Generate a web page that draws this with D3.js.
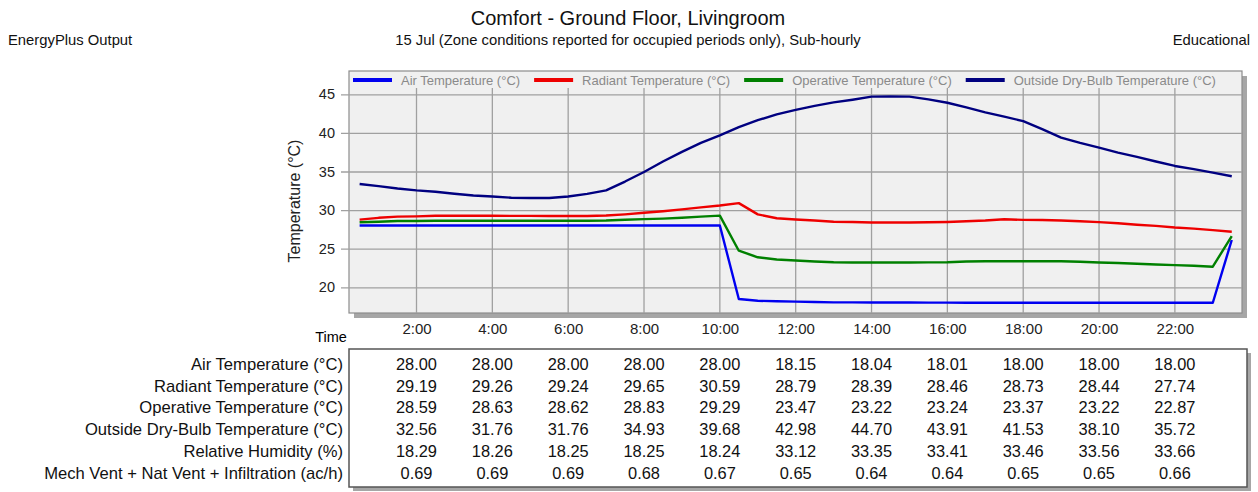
<!DOCTYPE html>
<html>
<head>
<meta charset="utf-8">
<script src="https://cdn.jsdelivr.net/npm/d3@7"></script>
<style>
  body { margin: 0; background: #fff; }
  text { font-family: "Liberation Sans", Arial, sans-serif; }
</style>
</head>
<body>
<svg id="chart"></svg>
<script>
const width = 1258;
const height = 492;

// time of each sub-hourly sample (h:mm)
const times = ['0:30','1:00','1:30','2:00','2:30','3:00','3:30','4:00','4:30','5:00','5:30','6:00',
  '6:30','7:00','7:30','8:00','8:30','9:00','9:30','10:00','10:30','11:00','11:30','12:00',
  '12:30','13:00','13:30','14:00','14:30','15:00','15:30','16:00','16:30','17:00','17:30','18:00',
  '18:30','19:00','19:30','20:00','20:30','21:00','21:30','22:00','22:30','23:00','23:30'];

const airTemp = [28.00,28.00,28.00,28.00,28.00,28.00,28.00,28.00,28.00,28.00,28.00,28.00,
  28.00,28.00,28.00,28.00,28.00,28.00,28.00,28.00,18.48,18.25,18.20,18.15,
  18.10,18.05,18.04,18.04,18.04,18.03,18.01,18.01,18.00,18.00,18.00,18.00,
  18.00,18.00,18.00,18.00,18.00,18.00,18.00,18.00,18.00,18.00,26.13];

const radiantTemp = [28.76,29.00,29.15,29.19,29.26,29.26,29.26,29.26,29.25,29.25,29.24,29.24,
  29.24,29.30,29.45,29.65,29.85,30.10,30.35,30.59,30.90,29.45,28.94,28.79,
  28.65,28.50,28.45,28.39,28.39,28.39,28.42,28.46,28.55,28.65,28.82,28.73,
  28.72,28.65,28.55,28.44,28.30,28.10,27.95,27.74,27.60,27.40,27.20];

const operativeTemp = [28.42,28.50,28.59,28.59,28.62,28.63,28.63,28.63,28.63,28.62,28.62,28.62,
  28.62,28.65,28.75,28.83,28.90,29.00,29.15,29.29,24.74,23.89,23.60,23.47,
  23.35,23.25,23.22,23.22,23.22,23.22,23.23,23.24,23.35,23.37,23.37,23.37,
  23.37,23.37,23.30,23.22,23.15,23.05,22.95,22.87,22.80,22.67,26.64];

const outsideTemp = [33.38,33.10,32.80,32.56,32.38,32.12,31.90,31.76,31.60,31.57,31.57,31.76,
  32.10,32.55,33.70,34.93,36.30,37.55,38.70,39.68,40.75,41.65,42.40,42.98,
  43.50,43.95,44.30,44.70,44.72,44.70,44.35,43.91,43.30,42.65,42.10,41.53,
  40.50,39.40,38.70,38.10,37.45,36.90,36.30,35.72,35.30,34.85,34.38];

const tickHours = ['2:00','4:00','6:00','8:00','10:00','12:00','14:00','16:00','18:00','20:00','22:00'];
const yTicks = [20, 25, 30, 35, 40, 45];

const seriesNames = ['Air Temperature (°C)', 'Radiant Temperature (°C)', 'Operative Temperature (°C)', 'Outside Dry-Bulb Temperature (°C)'];
const seriesColors = ['#0000f0', '#ee0000', '#008000', '#000080'];

const rowLabels = ['Air Temperature (°C)', 'Radiant Temperature (°C)', 'Operative Temperature (°C)',
  'Outside Dry-Bulb Temperature (°C)', 'Relative Humidity (%)', 'Mech Vent + Nat Vent + Infiltration (ac/h)'];
const tableAir = ['28.00','28.00','28.00','28.00','28.00','18.15','18.04','18.01','18.00','18.00','18.00'];
const tableRadiant = ['29.19','29.26','29.24','29.65','30.59','28.79','28.39','28.46','28.73','28.44','27.74'];
const tableOperative = ['28.59','28.63','28.62','28.83','29.29','23.47','23.22','23.24','23.37','23.22','22.87'];
const tableOutside = ['32.56','31.76','31.76','34.93','39.68','42.98','44.70','43.91','41.53','38.10','35.72'];
const tableHumidity = ['18.29','18.26','18.25','18.25','18.24','33.12','33.35','33.41','33.46','33.56','33.66'];
const tableVent = ['0.69','0.69','0.69','0.68','0.67','0.65','0.64','0.64','0.65','0.65','0.66'];

const plot = {left: 349, right: 1242, top: 71, bottom: 313, legendBottom: 88};

const toHours = t => { const p = t.split(':'); return +p[0] + (+p[1]) / 60; };

const svg = d3.select('#chart').attr('width', width).attr('height', height);

const x = d3.scaleLinear().domain([0.22, 23.77]).range([plot.left, plot.right]);
const y = d3.scaleLinear().domain([16.67, 48.02]).range([plot.bottom, plot.top]);

// titles
svg.append('text').attr('x', 628).attr('y', 25).attr('text-anchor', 'middle')
  .attr('font-size', 20).attr('fill', '#111').text('Comfort - Ground Floor, Livingroom');
svg.append('text').attr('x', 628).attr('y', 45).attr('text-anchor', 'middle')
  .attr('font-size', 14.8).attr('fill', '#111').text('15 Jul (Zone conditions reported for occupied periods only), Sub-hourly');
svg.append('text').attr('x', 8).attr('y', 45).attr('font-size', 14.8).attr('fill', '#111').text('EnergyPlus Output');
svg.append('text').attr('x', 1250).attr('y', 45).attr('text-anchor', 'end')
  .attr('font-size', 14.8).attr('fill', '#111').text('Educational');

// plot frame with shadow
svg.append('rect').attr('x', plot.left + 5).attr('y', plot.top + 5)
  .attr('width', plot.right - plot.left).attr('height', plot.bottom - plot.top).attr('fill', '#a6a6a6');
svg.append('rect').attr('x', plot.left).attr('y', plot.top)
  .attr('width', plot.right - plot.left).attr('height', plot.bottom - plot.top)
  .attr('fill', '#f0f0f0').attr('stroke', '#8c8c8c').attr('stroke-width', 1.2);

// y axis + gridlines
const yAxis = svg.append('g').attr('transform', `translate(${plot.right}, 0)`)
  .call(d3.axisLeft(y).tickValues(yTicks).tickSize(plot.right - plot.left + 8).tickPadding(6));
yAxis.select('.domain').remove();
yAxis.selectAll('line').attr('stroke', '#a0a0a0').attr('stroke-width', 1.3);
yAxis.selectAll('text').attr('font-size', 14.5).attr('fill', '#222').attr('font-family', 'Liberation Sans, Arial, sans-serif');

// x gridlines (start below legend band)
svg.append('g').selectAll('line').data(tickHours).join('line')
  .attr('x1', d => x(toHours(d))).attr('x2', d => x(toHours(d)))
  .attr('y1', plot.legendBottom).attr('y2', plot.bottom)
  .attr('stroke', '#a0a0a0').attr('stroke-width', 1.3);

const xAxis = svg.append('g').attr('transform', `translate(0, ${plot.bottom + 2})`)
  .call(d3.axisBottom(x).tickValues(tickHours.map(toHours)).tickSize(0).tickPadding(8)
    .tickFormat((d, i) => tickHours[i]));
xAxis.select('.domain').remove();
xAxis.selectAll('text').attr('font-size', 15).attr('fill', '#222').attr('font-family', 'Liberation Sans, Arial, sans-serif');

svg.append('text').attr('x', 331).attr('y', 342).attr('text-anchor', 'middle')
  .attr('font-size', 14.5).attr('fill', '#000').text('Time');

svg.append('text').attr('transform', 'translate(300, 201) rotate(-90)').attr('text-anchor', 'middle')
  .attr('font-size', 16).attr('fill', '#222').text('Temperature (°C)');

// series lines
const line = d3.line().x((d, i) => x(toHours(times[i]))).y(d => y(d));
const series = [airTemp, radiantTemp, operativeTemp, outsideTemp];
svg.append('g').selectAll('path').data(series).join('path')
  .attr('d', d => line(d))
  .attr('fill', 'none')
  .attr('stroke', (d, i) => seriesColors[i])
  .attr('stroke-width', 2.4)
  .attr('stroke-linejoin', 'round');

// legend inside the plot top band
const legend = svg.append('g');
let lx = 353;
seriesNames.forEach((name, i) => {
  legend.append('rect').attr('x', lx).attr('y', 78).attr('width', 39).attr('height', 4).attr('fill', seriesColors[i]);
  const t = legend.append('text').attr('x', lx + 48).attr('y', 84.5)
    .attr('font-size', 13).attr('fill', '#8a8a8a').text(name);
  lx += 48 + t.node().getComputedTextLength() + 14;
});

// data table under the chart
const table = {left: 349, right: 1247, top: 349, bottom: 487};
svg.append('rect').attr('x', table.left + 4).attr('y', table.top + 4)
  .attr('width', table.right - table.left).attr('height', table.bottom - table.top).attr('fill', '#a6a6a6');
svg.append('rect').attr('x', table.left).attr('y', table.top)
  .attr('width', table.right - table.left).attr('height', table.bottom - table.top)
  .attr('fill', '#fff').attr('stroke', '#555').attr('stroke-width', 1.5);

const rows = [tableAir, tableRadiant, tableOperative, tableOutside, tableHumidity, tableVent];
const rowY = d3.scalePoint().domain(d3.range(rows.length)).range([364, 473]);

rowLabels.forEach((label, r) => {
  svg.append('text').attr('x', 343).attr('y', rowY(r)).attr('dy', '0.35em')
    .attr('text-anchor', 'end').attr('font-size', 16.6).attr('fill', '#111').text(label);
  svg.append('g').selectAll('text').data(rows[r]).join('text')
    .attr('x', (d, i) => x(toHours(tickHours[i])))
    .attr('y', rowY(r)).attr('dy', '0.35em')
    .attr('text-anchor', 'middle').attr('font-size', 16.4).attr('fill', '#111')
    .text(d => d);
});
</script>
</body>
</html>
